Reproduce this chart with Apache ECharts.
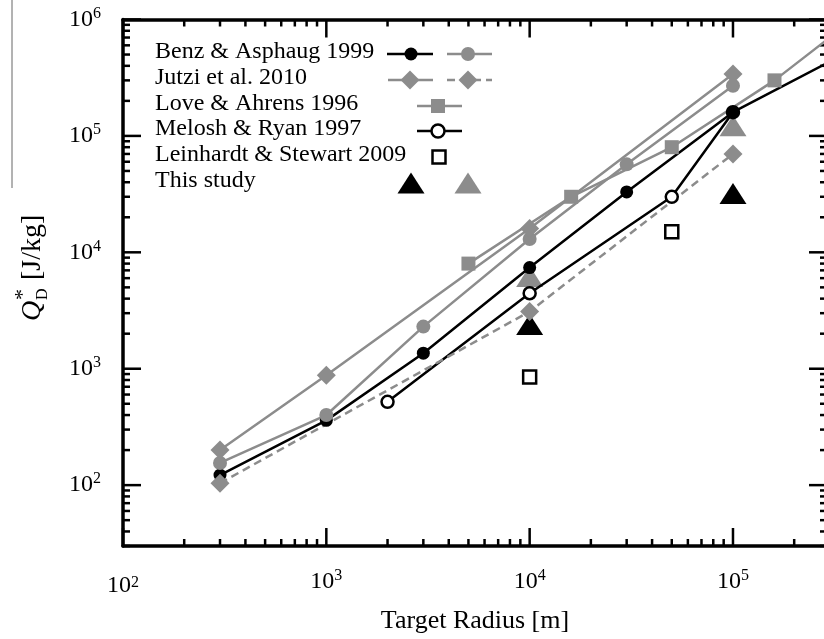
<!DOCTYPE html>
<html><head><meta charset="utf-8">
<script src="https://cdn.jsdelivr.net/npm/echarts@6/dist/echarts.min.js"></script>
<style>html,body{margin:0;padding:0;background:#fff}#c{width:824px;height:639px}</style>
</head><body><div id="c"></div>
<script>
const FONT = '"Liberation Serif","Times New Roman",serif';
const GRAY = '#8c8c8c';

// ---- data (target radius [m], Q*_D [J/kg]) ----
const benzBlackR = [300, 1000, 3000, 10000, 30000, 100000, 300000];
const benzBlackQ = [122, 360, 1360, 7400, 33000, 160000, 435000];
const benzGrayR  = [300, 1000, 3000, 10000, 30000, 100000];
const benzGrayQ  = [155, 400, 2300, 13000, 57000, 270000];
const jutziR     = [300, 1000, 10000, 100000];
const jutziQ     = [200, 880, 16000, 340000];
const jutziDashR = [300, 10000, 100000];
const jutziDashQ = [104, 3100, 70000];
const loveR      = [5000, 16000, 50000, 160000, 500000];
const loveQ      = [8000, 30000, 80000, 300000, 1400000];
const meloshR    = [2000, 10000, 50000, 100000];
const meloshQ    = [520, 4450, 30000, 160000];
const leinR      = [10000, 50000];
const leinQ      = [850, 15000];
const studyBlackR = [10000, 100000];
const studyBlackQ = [2400, 32000];
const studyGrayR  = [10000, 100000];
const studyGrayQ  = [6200, 122000];

// axis ranges and tick values
const xMin = 100, xMax = 290000, yMin = 30, yMax = 1000000;
const xMajor = [100, 1000, 10000, 100000];
const xMinor = [200,300,400,500,600,700,800,900,2000,3000,4000,5000,6000,7000,8000,9000,
                20000,30000,40000,50000,60000,70000,80000,90000,200000];
const yMajor = [100, 1000, 10000, 100000, 1000000];
const yMinor = [30,40,50,60,70,80,90,200,300,400,500,600,700,800,900,2000,3000,4000,5000,6000,7000,8000,9000,
                20000,30000,40000,50000,60000,70000,80000,90000,200000,300000,400000,500000,600000,700000,800000,900000];

function pairs(xs, ys) { return xs.map((x, i) => [x, ys[i]]); }

const chart = echarts.init(document.getElementById('c'), null, {renderer: 'canvas'});

const labelFmt = function (v) {
  const l = Math.log10(v), e = Math.round(l);
  if (Math.abs(l - e) > 1e-6) return '';
  return '{b|10}{s|' + e + '}';
};
const xLabelFmt = function (v) {
  const l = Math.log10(v), e = Math.round(l);
  if (Math.abs(l - e) > 1e-6) return '';
  if (e === 2) return '{b2|10}{s2|' + e + '}';
  return '{b|10}{s|' + e + '}';
};
const labelRich = {
  b: {fontFamily: FONT, fontSize: 24, color: '#000', lineHeight: 28},
  s: {fontFamily: FONT, fontSize: 16, color: '#000', lineHeight: 16, verticalAlign: 'top'},
  b2: {fontFamily: FONT, fontSize: 24, color: '#000', lineHeight: 28, padding: [7, 0, 0, 0]},
  s2: {fontFamily: FONT, fontSize: 16, color: '#000', lineHeight: 16, verticalAlign: 'top', padding: [7, 0, 0, 0]}
};
const axisLineStyle = () => ({show: true, lineStyle: {color: '#000', width: 3.5}});

const base = {xAxisIndex: 0, yAxisIndex: 0, animation: false, emphasis: {disabled: true}};
const grayLine = {color: GRAY, width: 2.5};
const blackLine = {color: '#000', width: 2.5};

// ---- legend (decoration) ----
const legendRowsY = [54, 80, 106, 131, 157, 183];
const legendTexts = ['Benz & Asphaug 1999', 'Jutzi et al. 2010', 'Love & Ahrens 1996',
                     'Melosh & Ryan 1997', 'Leinhardt & Stewart 2009', 'This study'];
const g = [];
legendTexts.forEach((t, i) => {
  g.push({type: 'text', left: 155, top: legendRowsY[i] - 14,
          style: {text: t, font: '24px ' + FONT, fill: '#000'}});
});
function lseg(x1, x2, y, color, dash) {
  return {type: 'line', shape: {x1: x1, y1: y, x2: x2, y2: y},
          style: {stroke: color, lineWidth: 2.5, lineDash: dash || null}};
}
function lcircle(cx, cy, r, fill, stroke) {
  return {type: 'circle', shape: {cx: cx, cy: cy, r: r},
          style: {fill: fill, stroke: stroke || null, lineWidth: stroke ? 2.5 : 0}};
}
function ldiamond(cx, cy, s, fill) {
  return {type: 'polygon', shape: {points: [[cx, cy - s], [cx + s, cy], [cx, cy + s], [cx - s, cy]]}, style: {fill: fill}};
}
function lrect(cx, cy, s, fill, stroke) {
  return {type: 'rect', shape: {x: cx - s, y: cy - s, width: 2 * s, height: 2 * s},
          style: {fill: fill, stroke: stroke || null, lineWidth: stroke ? 2.5 : 0}};
}
function ltri(cx, cy, w, h, fill) {
  return {type: 'polygon', shape: {points: [[cx, cy - h / 2], [cx + w / 2, cy + h / 2], [cx - w / 2, cy + h / 2]]}, style: {fill: fill}};
}
const L = legendRowsY;
g.push(lseg(387, 433, L[0], '#000'), lcircle(411, L[0], 6.5, '#000'));
g.push(lseg(447, 492, L[0], GRAY), lcircle(468, L[0], 7, GRAY));
g.push(lseg(388, 433, L[1], GRAY), ldiamond(410, L[1], 9.5, GRAY));
g.push(lseg(447, 492, L[1], GRAY, [8, 5]), ldiamond(468, L[1], 9.5, GRAY));
g.push(lseg(417, 462, L[2], GRAY), lrect(438, L[2], 7, GRAY));
g.push(lseg(417, 462, L[3], '#000'), lcircle(438, L[3], 6.5, '#fff', '#000'));
g.push(lrect(439, L[4], 6.5, '#fff', '#000'));
g.push(ltri(411, L[5], 27, 21, '#000'), ltri(468, L[5], 27, 21, GRAY));

// y-axis title (rotated)
g.push({type: 'group', x: 33, y: 265, rotation: Math.PI / 2, children: [
  {type: 'text', x: -56, y: 0, style: {text: 'Q', font: 'italic 28px ' + FONT, fill: '#000', textVerticalAlign: 'middle'}},
  {type: 'text', x: -35, y: -10, style: {text: '*', font: '22px ' + FONT, fill: '#000', textVerticalAlign: 'middle'}},
  {type: 'text', x: -35, y: 10, style: {text: 'D', font: '16px ' + FONT, fill: '#000', textVerticalAlign: 'middle'}},
  {type: 'text', x: -15, y: 0, style: {text: '[J/kg]', font: '28px ' + FONT, fill: '#000', textVerticalAlign: 'middle'}}
]});
// thin vertical rule at the left edge of the figure
g.push({type: 'line', shape: {x1: 12, y1: 0, x2: 12, y2: 188}, style: {stroke: '#666', lineWidth: 1}});

const scatterItem = (c) => ({color: c, opacity: 1});

chart.setOption({
  animation: false,
  backgroundColor: '#fff',
  grid: {left: 123, top: 19.5, width: 704, height: 526.5, containLabel: false, outerBoundsMode: 'none'},
  xAxis: [
    {type: 'log', logBase: 10, min: xMin, max: xMax, position: 'bottom',
     axisLine: axisLineStyle(), axisTick: {show: false}, splitLine: {show: false},
     axisLabel: {margin: 22, formatter: xLabelFmt, rich: labelRich, showMinLabel: true},
     name: 'Target Radius [m]', nameLocation: 'middle', nameGap: 62,
     nameTextStyle: {fontFamily: FONT, fontSize: 26, color: '#000'}},
    {type: 'log', logBase: 10, min: xMin, max: xMax, position: 'top',
     axisLine: axisLineStyle(), axisTick: {show: false}, splitLine: {show: false}, axisLabel: {show: false}}
  ],
  yAxis: [
    {type: 'log', logBase: 10, min: yMin, max: yMax, position: 'left',
     axisLine: axisLineStyle(), axisTick: {show: false}, splitLine: {show: false},
     axisLabel: {margin: 22, formatter: labelFmt, rich: labelRich}},
    {type: 'log', logBase: 10, min: yMin, max: yMax, position: 'right',
     axisLine: axisLineStyle(), axisTick: {show: false}, splitLine: {show: false}, axisLabel: {show: false}}
  ],
  series: [
    Object.assign({type: 'line', name: 'Melosh & Ryan 1997', data: pairs(meloshR, meloshQ),
      symbol: 'circle', symbolSize: 12, lineStyle: blackLine,
      itemStyle: {color: '#fff', borderColor: '#000', borderWidth: 2.5}}, base),
    Object.assign({type: 'line', name: 'Benz & Asphaug 1999', data: pairs(benzBlackR, benzBlackQ),
      symbol: 'circle', symbolSize: 13, lineStyle: blackLine, itemStyle: {color: '#000'}}, base),
    Object.assign({type: 'line', name: 'Benz & Asphaug 1999 (gray)', data: pairs(benzGrayR, benzGrayQ),
      symbol: 'circle', symbolSize: 14, lineStyle: grayLine, itemStyle: {color: GRAY}}, base),
    Object.assign({type: 'line', name: 'Jutzi et al. 2010', data: pairs(jutziR, jutziQ),
      symbol: 'diamond', symbolSize: [19, 19], lineStyle: grayLine, itemStyle: {color: GRAY}}, base),
    Object.assign({type: 'line', name: 'Jutzi et al. 2010 (dashed)', data: pairs(jutziDashR, jutziDashQ),
      symbol: 'diamond', symbolSize: [19, 19], lineStyle: {color: GRAY, width: 2.5, type: [8, 5]},
      itemStyle: {color: GRAY}}, base),
    Object.assign({type: 'line', name: 'Love & Ahrens 1996', data: pairs(loveR, loveQ),
      symbol: 'rect', symbolSize: 14, lineStyle: grayLine, itemStyle: {color: GRAY}}, base),
    Object.assign({type: 'scatter', name: 'Leinhardt & Stewart 2009', data: pairs(leinR, leinQ),
      symbol: 'rect', symbolSize: 13, itemStyle: {color: '#fff', borderColor: '#000', borderWidth: 2.5, opacity: 1}}, base),
    Object.assign({type: 'scatter', name: 'This study', data: pairs(studyBlackR, studyBlackQ),
      symbol: 'triangle', symbolSize: [27, 21], itemStyle: scatterItem('#000')}, base),
    Object.assign({type: 'scatter', name: 'This study (gray)', data: pairs(studyGrayR, studyGrayQ),
      symbol: 'triangle', symbolSize: [27, 21], itemStyle: scatterItem(GRAY)}, base)
  ]
});

// ---- axis ticks on all four sides, positioned through the axes' own scales ----
const ticks = [];
const yTop = chart.convertToPixel({yAxisIndex: 0}, yMax);
const yBot = chart.convertToPixel({yAxisIndex: 0}, yMin);
const xLeft = chart.convertToPixel({xAxisIndex: 0}, xMin);
const xRight = chart.convertToPixel({xAxisIndex: 0}, xMax);
function tline(x1, y1, x2, y2) {
  return {type: 'line', shape: {x1: x1, y1: y1, x2: x2, y2: y2},
          style: {stroke: '#000', lineWidth: 2.5}};
}
function addX(v, len) {
  const px = chart.convertToPixel({xAxisIndex: 0}, v);
  ticks.push(tline(px, yBot, px, yBot - len));
  ticks.push(tline(px, yTop, px, yTop + len));
}
function addY(v, len) {
  const py = chart.convertToPixel({yAxisIndex: 0}, v);
  ticks.push(tline(xLeft, py, xLeft + len, py));
  ticks.push(tline(xRight, py, xRight - len, py));
}
xMajor.forEach(v => addX(v, 18));
xMinor.forEach(v => addX(v, 7));
yMajor.forEach(v => addY(v, 18));
yMinor.forEach(v => addY(v, 7));

chart.setOption({graphic: g.concat(ticks)});
</script></body></html>
